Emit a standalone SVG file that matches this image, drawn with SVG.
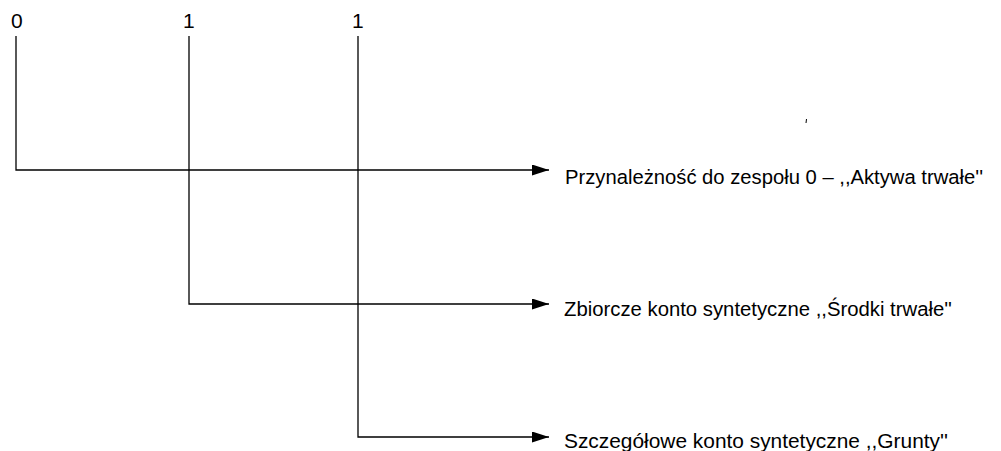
<svg xmlns="http://www.w3.org/2000/svg" width="1001" height="451" viewBox="0 0 1001 451">
<style>
.ln{fill:none;stroke:#000;stroke-width:1.3}
.t{font-family:"Liberation Sans",Arial,sans-serif;fill:#000}
.d{font-size:21px}
.l{font-size:20.5px}
</style>
<defs>
<marker id="ah" viewBox="0 0 17 11" refX="17" refY="5.5" markerWidth="17" markerHeight="11" markerUnits="userSpaceOnUse" orient="auto">
<path d="M0,0 L17,5.5 L0,11 Z" fill="#000"/>
</marker>
</defs>
<rect width="1001" height="451" fill="#fff"/>
<g id="connectors">
<path class="ln" d="M16,36 V170 H549" marker-end="url(#ah)"/>
<path class="ln" d="M189,36 V304 H549" marker-end="url(#ah)"/>
<path class="ln" d="M358,36 V437 H549" marker-end="url(#ah)"/>
</g>
<g id="digit0"><text class="t d" x="11" y="28">0</text></g>
<g id="digit1a"><text class="t d" x="183" y="28">1</text></g>
<g id="digit1b"><text class="t d" x="352" y="28">1</text></g>
<g id="label1"><text class="t l" x="565" y="184" textLength="418" lengthAdjust="spacingAndGlyphs">Przynależność do zespołu 0 – ,,Aktywa trwałe''</text></g>
<g id="label2"><text class="t l" x="564" y="316" textLength="388" lengthAdjust="spacingAndGlyphs">Zbiorcze konto syntetyczne ,,Środki trwałe''</text></g>
<g id="label3"><text class="t l" x="564" y="448" textLength="384" lengthAdjust="spacingAndGlyphs">Szczegółowe konto syntetyczne ,,Grunty''</text></g>
<g id="mark"><line x1="806.5" y1="119" x2="806" y2="123" stroke="#000" stroke-width="1"/></g>
</svg>
